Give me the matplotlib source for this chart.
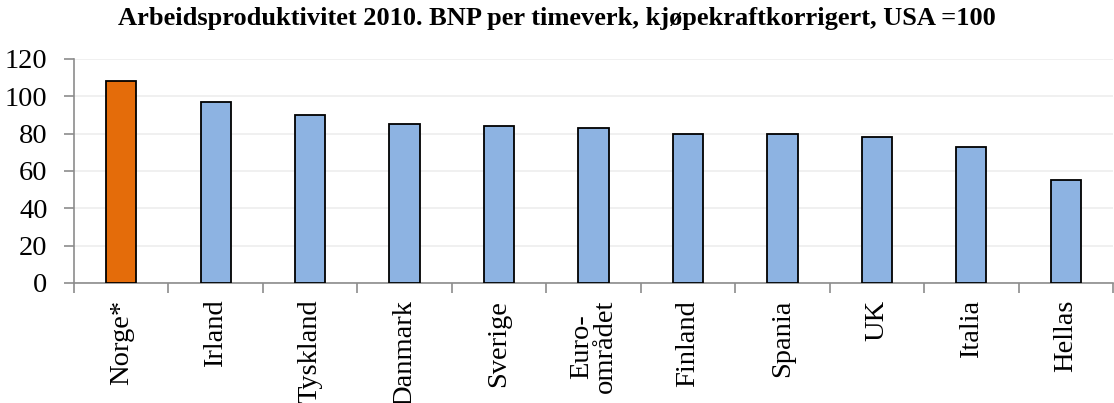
import matplotlib
matplotlib.use("Agg")
import matplotlib.pyplot as plt

categories = ["Norge*", "Irland", "Tyskland", "Danmark", "Sverige", "Euro-\nområdet",
              "Finland", "Spania", "UK", "Italia", "Hellas"]
values = [108, 97, 90, 85, 84, 83, 80, 80, 78, 73, 55]
highlight = "Norge*"
title = "Arbeidsproduktivitet 2010. BNP per timeverk, kjøpekraftkorrigert, USA =100"
yticks = [0, 20, 40, 60, 80, 100, 120]

plt.rcParams['font.family'] = ['Liberation Serif', 'DejaVu Serif']

fig = plt.figure(figsize=(11.14, 4.03), dpi=100)
ax = fig.add_axes([74/1114, 1-283/403, 1039/1114, (283-59)/403])

colors = ["#E46C0A" if c == highlight else "#8DB3E2" for c in categories]
x = list(range(len(categories)))
ax.bar(x, values, width=0.32, color=colors, edgecolor="black", linewidth=1.3, zorder=3)

ax.set_xlim(-0.5, len(categories) - 0.5)
ax.set_ylim(0, 120)
ax.set_yticks(yticks)
ax.set_yticklabels([str(t) for t in yticks], fontsize=20.5)
ax.yaxis.grid(True, color="#EEEEEE", linewidth=1.2, zorder=0)
ax.set_axisbelow(True)

ax.set_xticks(x)
ax.set_xticklabels(categories, rotation=90, fontsize=20.5, va="top", ha="center",
                   multialignment="center", linespacing=0.95)
ax.tick_params(axis="x", length=0, pad=12)
ax.set_xticks([i + 0.5 for i in range(-1, len(categories))], minor=True)
ax.tick_params(axis="x", which="minor", length=7, color="#8C8C8C", width=1.2)
ax.tick_params(axis="y", length=7, color="#8C8C8C", width=1.2, pad=12)

for s in ["top", "right"]:
    ax.spines[s].set_visible(False)
for s in ["left", "bottom"]:
    ax.spines[s].set_color("#8C8C8C")
    ax.spines[s].set_linewidth(1.2)

fig.text(0.5, 1 - 19/403, title, ha="center", va="center", fontsize=19, fontweight="bold")

fig.savefig("out.png", dpi=100)
